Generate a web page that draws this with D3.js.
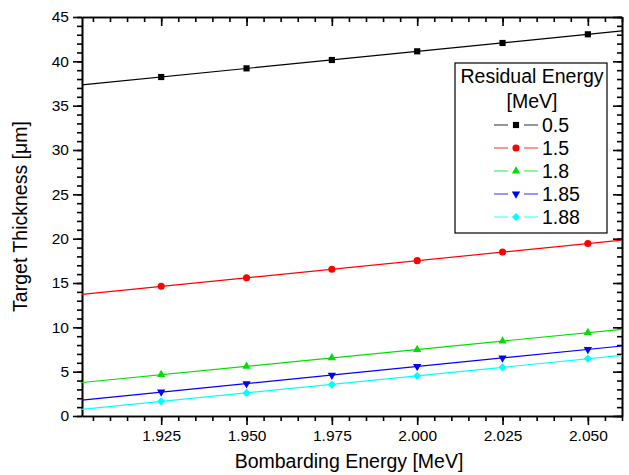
<!DOCTYPE html>
<meta charset="utf-8">
<style>
    body { margin: 0; background: #fff; }
    text { font-family: Arial, "Liberation Sans", sans-serif; fill: #000; }
    .axis path, .axis line { stroke: #000; stroke-width: 1.6px; }
    .axis text { font-size: 15.5px; }
    .axisTitle { font-size: 19.5px; text-anchor: middle; }
    .legendText { font-size: 19.5px; }
</style>
<body>
<script src="https://d3js.org/d3.v7.min.js"></script>
<script>
    // data
    var energies = [1.925, 1.950, 1.975, 2.000, 2.025, 2.050];
    var residualLabels = ["0.5", "1.5", "1.8", "1.85", "1.88"];
    var thick05 = [38.23, 39.21, 40.15, 41.13, 42.07, 43.05];
    var thick15 = [14.63, 15.58, 16.55, 17.52, 18.49, 19.45];
    var thick18 = [4.67, 5.60, 6.55, 7.50, 8.46, 9.40];
    var thick185 = [2.71, 3.65, 4.60, 5.58, 6.54, 7.52];
    var thick188 = [1.66, 2.60, 3.55, 4.52, 5.49, 6.47];
    var xTicks = [1.925, 1.950, 1.975, 2.000, 2.025, 2.050];
    var yTicks = [0, 5, 10, 15, 20, 25, 30, 35, 40, 45];

    var colors = ["#000000", "#ff0000", "#00e000", "#0000ff", "#00ffff"];
    var shapes = ["square", "circle", "up", "down", "diamond"];
    var allSeries = [thick05, thick15, thick18, thick185, thick188];

    // set the dimensions and margins of the graph
    var margin = {top: 17, right: 7, bottom: 59, left: 82},
        width = 629 - margin.left - margin.right,
        height = 475 - margin.top - margin.bottom;

    var x = d3.scaleLinear().domain([1.9018, 2.06]).range([0, width]);
    var y = d3.scaleLinear().domain([0, 45]).range([height, 0]);

    var svg = d3.select("body").append("svg")
        .attr("width", 629).attr("height", 475)
        .append("g")
        .attr("transform", "translate(" + margin.left + "," + margin.top + ")");

    var fmtX = d3.format(".3f");
    var xMinor = d3.range(1.905, 2.0601, 0.005);
    var yMinor = d3.range(0, 45.01, 1);

    // bottom axis (outward ticks)
    svg.append("g").attr("class", "axis").attr("transform", "translate(0," + height + ")")
        .call(d3.axisBottom(x).tickValues(xMinor).tickSize(5).tickFormat("").tickSizeOuter(0));
    svg.append("g").attr("class", "axis").attr("transform", "translate(0," + height + ")")
        .call(d3.axisBottom(x).tickValues(xTicks).tickSize(9).tickPadding(5).tickFormat(fmtX).tickSizeOuter(0));
    // top axis (inward ticks)
    svg.append("g").attr("class", "axis")
        .call(d3.axisBottom(x).tickValues(xMinor).tickSize(5).tickFormat("").tickSizeOuter(0));
    svg.append("g").attr("class", "axis")
        .call(d3.axisBottom(x).tickValues(xTicks).tickSize(9).tickFormat("").tickSizeOuter(0));
    // left axis (outward ticks)
    svg.append("g").attr("class", "axis")
        .call(d3.axisLeft(y).tickValues(yMinor).tickSize(5).tickFormat("").tickSizeOuter(0));
    svg.append("g").attr("class", "axis")
        .call(d3.axisLeft(y).tickValues(yTicks).tickSize(9).tickPadding(4).tickSizeOuter(0));
    // right axis (inward ticks)
    svg.append("g").attr("class", "axis").attr("transform", "translate(" + width + ",0)")
        .call(d3.axisLeft(y).tickValues(yMinor).tickSize(5).tickFormat("").tickSizeOuter(0));
    svg.append("g").attr("class", "axis").attr("transform", "translate(" + width + ",0)")
        .call(d3.axisLeft(y).tickValues(yTicks).tickSize(9).tickFormat("").tickSizeOuter(0));

    function symbolFor(shape) {
        if (shape === "square") return d3.symbol().type(d3.symbolSquare).size(38)();
        if (shape === "circle") return d3.symbol().type(d3.symbolCircle).size(40)();
        if (shape === "diamond") return d3.symbol().type(d3.symbolSquare).size(34)();
        return d3.symbol().type(d3.symbolTriangle).size(30)();
    }
    function rotFor(shape) {
        return shape === "down" ? 180 : (shape === "diamond" ? 45 : 0);
    }

    // linear fit lines and points
    allSeries.forEach(function(vals, i) {
        var pts = energies.map(function(e, j) { return {e: e, t: vals[j]}; });
        var mx = d3.mean(pts, function(d) { return d.e; }),
            my = d3.mean(pts, function(d) { return d.t; });
        var slope = d3.sum(pts, function(d) { return (d.e - mx) * (d.t - my); }) /
                    d3.sum(pts, function(d) { return (d.e - mx) * (d.e - mx); });
        var fit = x.domain().map(function(e) { return {e: e, t: my + slope * (e - mx)}; });

        svg.append("path").datum(fit)
            .attr("fill", "none").attr("stroke", colors[i]).attr("stroke-width", 1.2)
            .attr("d", d3.line().x(function(d) { return x(d.e); }).y(function(d) { return y(d.t); }));

        var rot = rotFor(shapes[i]);
        svg.selectAll(".pt" + i).data(pts).enter().append("path")
            .attr("class", "pt" + i)
            .attr("d", symbolFor(shapes[i]))
            .attr("fill", colors[i])
            .attr("transform", function(d) {
                return "translate(" + x(d.e) + "," + y(d.t) + ") rotate(" + rot + ")";
            });
    });

    // legend
    var lg = svg.append("g").attr("transform", "translate(" + (455 - margin.left) + "," + (63 - margin.top) + ")");
    lg.append("rect").attr("width", 152).attr("height", 170)
        .attr("fill", "#fff").attr("stroke", "#000").attr("stroke-width", 1.2);
    lg.append("text").attr("class", "legendText").attr("x", 77).attr("y", 20)
        .attr("text-anchor", "middle").text("Residual Energy");
    lg.append("text").attr("class", "legendText").attr("x", 77).attr("y", 45)
        .attr("text-anchor", "middle").text("[MeV]");

    residualLabels.forEach(function(lab, i) {
        var cy = 62 + i * 23;
        var row = lg.append("g").attr("transform", "translate(0," + cy + ")");
        row.append("line").attr("x1", 39).attr("x2", 53).attr("y1", 0).attr("y2", 0)
            .attr("stroke", colors[i]).attr("stroke-opacity", 0.6).attr("stroke-width", 1.4);
        row.append("line").attr("x1", 69).attr("x2", 83).attr("y1", 0).attr("y2", 0)
            .attr("stroke", colors[i]).attr("stroke-opacity", 0.6).attr("stroke-width", 1.4);
        row.append("path").attr("d", symbolFor(shapes[i])).attr("fill", colors[i])
            .attr("transform", "translate(61,0) rotate(" + rotFor(shapes[i]) + ")");
        row.append("text").attr("class", "legendText").attr("x", 87).attr("y", 7).text(lab);
    });

    // axis titles
    svg.append("text").attr("class", "axisTitle")
        .attr("x", width / 2 - 3).attr("y", height + 52)
        .text("Bombarding Energy [MeV]");
    svg.append("text").attr("class", "axisTitle")
        .attr("transform", "translate(" + (-55) + "," + (height / 2) + ") rotate(-90)")
        .text("Target Thickness [\u03bcm]");
</script>
</body>
